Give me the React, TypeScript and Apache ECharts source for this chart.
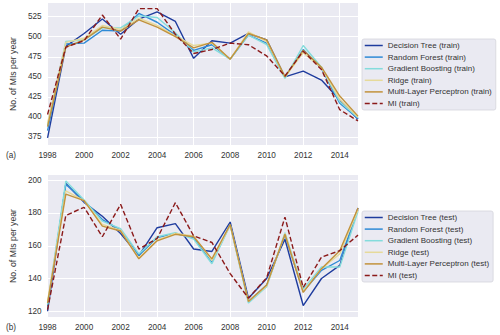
import React, { useEffect, useRef } from 'react';
import * as echarts from 'echarts';

const years = [1998, 1999, 2000, 2001, 2002, 2003, 2004, 2005, 2006, 2007, 2008, 2009, 2010, 2011, 2012, 2013, 2014, 2015];

const dtTrain = [374, 488, 504, 522, 503, 522, 531, 519, 473, 495, 492, 504, 496, 450, 457, 446, 421, 397];
const rfTrain = [383, 491, 492, 508, 507, 529, 518, 502, 483, 490, 472, 502, 492, 450, 484, 460, 417, 398];
const gbTrain = [390, 494, 496, 511, 511, 526, 524, 505, 481, 486, 472, 502, 490, 448, 489, 462, 419, 399];
const ridgeTrain = [392, 493, 498, 514, 509, 523, 514, 501, 489, 492, 472, 506, 494, 450, 480, 461, 422, 400];
const mlpTrain = [388, 487, 496, 512, 507, 521, 512, 500, 486, 493, 472, 504, 496, 450, 483, 462, 426, 401];
const miTrain = [403, 487, 495, 527, 497, 535, 535, 503, 479, 484, 492, 490, 476, 451, 482, 459, 409, 395];

const dtTest = [120, 198, 186.5, 178, 167.5, 154, 171, 173.5, 158, 156.5, 174.5, 128, 140, 164, 123.5, 140, 148, 183];
const rfTest = [123, 197.5, 187.5, 176, 169.5, 154, 165, 167.5, 165, 150, 173, 126, 136, 166.5, 132, 145, 151, 182];
const gbTest = [124, 199.5, 188, 175, 170.5, 155, 165.5, 168, 164, 149, 172.5, 125, 135, 168, 133.5, 147, 147, 181];
const ridgeTest = [126, 193.5, 187.5, 173, 169.5, 152.5, 163.5, 167.5, 166, 151, 172.5, 126, 135.5, 167.5, 132, 146, 155, 182];
const mlpTest = [125, 191.5, 187.5, 172, 169, 152, 163, 167, 165.5, 152, 173, 126, 136, 167, 131.5, 146, 157, 183];
const miTest = [121, 178.5, 183.5, 165.5, 185.3, 158, 164.5, 186.3, 166, 162, 143, 128, 140.5, 177.5, 134.5, 153, 157, 166.5];

const modelNames = ['Decision Tree', 'Random Forest', 'Gradient Boosting', 'Ridge', 'Multi-Layer Perceptron', 'MI'];
const colors = ['#1f3c9e', '#2e8ad6', '#84dcdc', '#e6da9a', '#c2923c', '#8b1a1a'];
const trainTicks = [375, 400, 425, 450, 475, 500, 525];
const testTicks = [120, 140, 160, 180, 200];

const FONT = 'Liberation Sans, Arial, sans-serif';

export default function App() {
  const ref = useRef<HTMLDivElement>(null);
  useEffect(() => {
    const chart = echarts.init(ref.current!, null, { renderer: 'svg' });
    const trainData = [dtTrain, rfTrain, gbTrain, ridgeTrain, mlpTrain, miTrain];
    const testData = [dtTest, rfTest, gbTest, ridgeTest, mlpTest, miTest];
    const mk = (vals: number[], i: number, suffix: string, idx: number) => ({
      name: `${modelNames[i]} (${suffix})`,
      type: 'line',
      xAxisIndex: idx,
      yAxisIndex: idx,
      data: years.map((y, k) => [y, vals[k]]),
      symbol: 'none',
      showSymbol: false,
      z: 2 + i,
      lineStyle: {
        color: colors[i],
        width: 1.4,
        type: i === 5 ? [5, 2.5] : 'solid',
      },
      itemStyle: { color: colors[i] },
    });
    const series = [
      ...trainData.map((v, i) => mk(v, i, 'train', 0)),
      ...testData.map((v, i) => mk(v, i, 'test', 1)),
    ];
    const xAxisBase = {
      type: 'value',
      min: 1998,
      max: 2015,
      interval: 2,
      axisLine: { show: false },
      axisTick: { show: false },
      axisLabel: {
        color: '#333',
        fontSize: 8.2,
        fontFamily: FONT,
        margin: 6,
        showMaxLabel: false,
        formatter: (v: number) => String(v),
      },
      splitLine: { show: true, lineStyle: { color: '#ffffff', width: 1 } },
    };
    const yAxisBase = (min: number, max: number, ticks: number[]) => ({
      type: 'value',
      min,
      max,
      name: 'No. of MIs per year',
      nameLocation: 'middle',
      nameGap: 24,
      nameTextStyle: { color: '#333', fontSize: 8.7, fontFamily: FONT },
      axisLine: { show: false },
      axisTick: { show: false, customValues: ticks },
      axisLabel: { color: '#333', fontSize: 8.2, fontFamily: FONT, margin: 6, customValues: ticks },
      splitLine: { show: true, customValues: ticks, lineStyle: { color: '#ffffff', width: 1 } },
    });
    const legendBase = {
      orient: 'vertical',
      left: 362,
      itemWidth: 18,
      itemHeight: 8,
      itemGap: 3.6,
      padding: [2.5, 4, 2.5, 2],
      backgroundColor: '#eaeaf2',
      borderColor: '#d4d4dc',
      borderWidth: 0.8,
      borderRadius: 2,
      itemStyle: { opacity: 0 },
      lineStyle: { width: 1.5 },
      textStyle: { color: '#333', fontSize: 8, fontFamily: FONT, lineHeight: 8 },
    };
    chart.setOption({
      animation: false,
      backgroundColor: '#ffffff',
      textStyle: { fontFamily: FONT },
      grid: [
        { left: 36, top: 3, width: 322, height: 142, show: true, backgroundColor: '#eaeaf2', borderWidth: 0 },
        { left: 36, top: 175, width: 322, height: 142, show: true, backgroundColor: '#eaeaf2', borderWidth: 0 },
      ],
      xAxis: [
        { ...xAxisBase, gridIndex: 0 },
        { ...xAxisBase, gridIndex: 1 },
      ],
      yAxis: [
        { ...yAxisBase(365, 542, trainTicks), gridIndex: 0 },
        { ...yAxisBase(116.5, 203.2, testTicks), gridIndex: 1 },
      ],
      legend: [
        { ...legendBase, top: 39, data: modelNames.map((n) => `${n} (train)`) },
        { ...legendBase, top: 211, data: modelNames.map((n) => `${n} (test)`) },
      ],
      graphic: [
        { type: 'text', left: 6, top: 151, style: { text: '(a)', fill: '#333', fontSize: 8.2, fontFamily: FONT } },
        { type: 'text', left: 6, top: 323, style: { text: '(b)', fill: '#333', fontSize: 8.2, fontFamily: FONT } },
      ],
      series,
    });
    return () => chart.dispose();
  }, []);
  return <div ref={ref} style={{ position: 'absolute', left: 0, top: 0, width: 500, height: 335 }} />;
}
